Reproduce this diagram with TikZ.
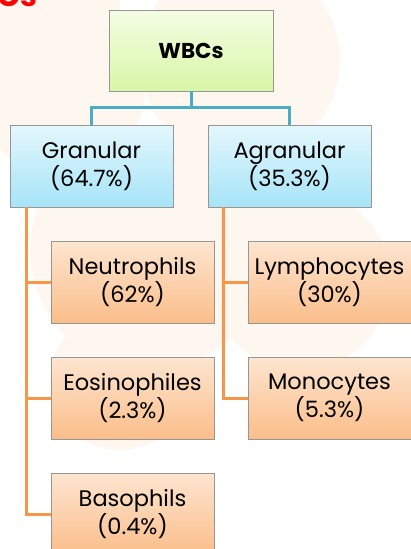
\documentclass[tikz,border=0pt]{standalone}
\usepackage{fontspec}
\setmainfont{Poppins}
\definecolor{wmark}{RGB}{253,247,240}
\definecolor{gtop}{RGB}{244,253,228}
\definecolor{gbot}{RGB}{216,247,166}
\definecolor{btop}{RGB}{228,247,253}
\definecolor{bbot}{RGB}{166,228,248}
\definecolor{otop}{RGB}{253,229,208}
\definecolor{obot}{RGB}{251,190,138}
\definecolor{tealline}{RGB}{75,172,198}
\definecolor{orline}{RGB}{247,150,70}
\definecolor{edge}{RGB}{150,150,150}
\begin{document}
\begin{tikzpicture}[x=1pt,y=-1pt,
  box/.style={draw=edge, line width=0.8pt, minimum width=163pt, minimum height=82pt,
    align=center, inner sep=0pt, font=\fontsize{22.5}{28}\selectfont},
  greenbox/.style={box, top color=gtop, bottom color=gbot, font=\fontsize{21.5}{28}\selectfont\bfseries},
  bluebox/.style={box, top color=btop, bottom color=bbot},
  orbox/.style={box, top color=otop, bottom color=obot},
  tl/.style={draw=tealline, line width=3pt},
  ol/.style={draw=orline, line width=3pt}]
\useasboundingbox (0,0) rectangle (411,549);
\clip (0,0) rectangle (411,549);
% faint watermark
\fill[wmark] (0,0) rectangle (120,40);
\fill[wmark] (60,90) circle (85);
\fill[wmark] (240,60) circle (100);
\fill[wmark] (150,250) circle (120);
\fill[wmark] (300,280) circle (90);
\fill[wmark] (120,380) circle (70);
% cut-off title
\node[anchor=base east, text=red, font=\fontsize{30}{30}\selectfont\bfseries, inner sep=0pt] (title) at (37,6) {WBCs};
% boxes
\node[greenbox, minimum width=164pt, minimum height=81pt] (wbc) at (191,50.5) {WBCs};
\node[bluebox] (gran) at (91.5,166) {Granular\\(64.7\%)};
\node[bluebox] (agran) at (289.5,166) {Agranular\\(35.3\%)};
\node[orbox] (neut) at (132.5,282) {Neutrophils\\(62\%)};
\node[orbox] (eos) at (132.5,398) {Eosinophiles\\(2.3\%)};
\node[orbox] (baso) at (132.5,514) {Basophils\\(0.4\%)};
\node[orbox] (lymph) at (329.5,282) {Lymphocytes\\(30\%)};
\node[orbox] (mono) at (329.5,398) {Monocytes\\(5.3\%)};
% connectors
\coordinate (hub) at ([yshift=-16pt]wbc.south);
\draw[tl] (wbc.south) -- (hub) -| (gran.north);
\draw[tl] (hub) -| (agran.north);
\draw[ol] ([xshift=-65pt]gran.south) |- (neut.west);
\draw[ol] ([xshift=-65pt]gran.south) |- (eos.west);
\draw[ol] ([xshift=-65pt]gran.south) |- (baso.west);
\draw[ol] ([xshift=-66pt]agran.south) |- (lymph.west);
\draw[ol] ([xshift=-66pt]agran.south) |- (mono.west);
\end{tikzpicture}
\end{document}
